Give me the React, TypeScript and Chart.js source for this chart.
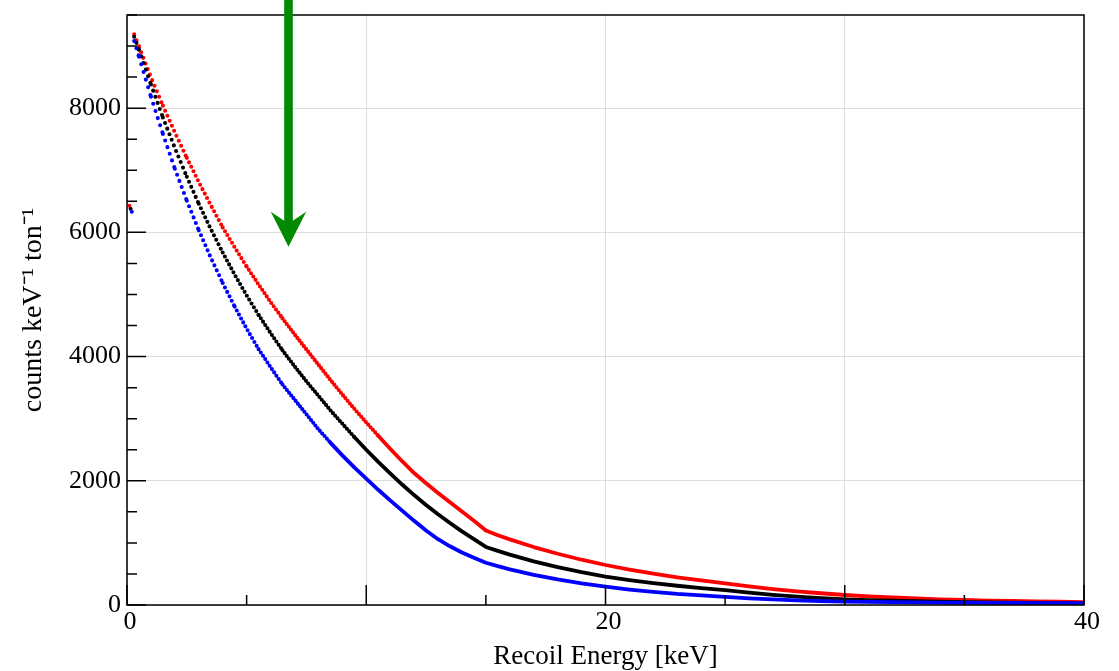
import React, { useEffect, useRef } from "react";
import { Chart, registerables } from "chart.js";

Chart.register(...registerables);

// Recoil energy grid (keV)
const ENERGY_KEV = [
  0.3, 0.5, 1, 1.5, 2, 2.5, 3, 3.5, 4, 4.5, 5, 5.5, 6, 6.5, 7, 7.5, 8, 8.5, 9, 9.5,
  10, 10.5, 11, 11.5, 12, 12.5, 13, 13.5, 14, 14.5, 15, 15.5, 16, 17, 18, 19, 20,
  21, 22, 23, 24, 25, 26, 27, 28, 29, 30, 31, 32, 33, 34, 35, 36, 37, 38, 39, 40,
];

// counts keV^-1 ton^-1
const RED_COUNTS = [
  9190, 8990, 8500, 8040, 7610, 7200, 6810, 6440, 6080, 5760, 5450, 5160, 4880, 4615,
  4360, 4115, 3870, 3625, 3390, 3160, 2940, 2725, 2515, 2315, 2125, 1960, 1805, 1655,
  1505, 1355, 1200, 1123, 1056, 933, 825, 729, 644, 570, 504, 446, 395, 349, 300, 257,
  220, 189, 161, 139, 121, 105, 91, 81, 72, 65, 58, 52, 47,
];
const BLACK_COUNTS = [
  9150, 8940, 8380, 7850, 7360, 6895, 6460, 6055, 5675, 5320, 4985, 4670, 4380, 4100,
  3845, 3600, 3370, 3135, 2920, 2705, 2500, 2305, 2120, 1940, 1770, 1610, 1460, 1320,
  1185, 1060, 935, 871, 811, 703, 609, 528, 456, 401, 353, 310, 273, 240, 198, 163,
  134, 110, 91, 79, 69, 61, 53, 47, 41, 36, 32, 28, 25,
];
const BLUE_COUNTS = [
  9080, 8830, 8185, 7585, 7025, 6510, 6035, 5595, 5185, 4805, 4450, 4120, 3830, 3550,
  3310, 3070, 2830, 2615, 2410, 2215, 2035, 1855, 1685, 1520, 1355, 1200, 1060, 945,
  845, 760, 680, 625, 575, 486, 411, 347, 295, 249, 211, 178, 155, 130, 107, 90, 76,
  64, 54, 50, 46, 42, 38, 36, 34, 32, 30, 29, 28,
];

// isolated first points near zero energy: red, black, blue
const LOW_ENERGY_KEV = [0.1, 0.15, 0.2];
const LOW_COUNTS = [6430, 6380, 6330];

// axis ticks
const X_MAJOR_TICKS = [0, 10, 20, 30, 40];
const X_LABELLED_TICKS = [0, 20, 40];
const X_MINOR_TICKS = [5, 15, 25, 35];
const Y_MAJOR_TICKS = [0, 2000, 4000, 6000, 8000];
const Y_MINOR_STEP = 500;

// annotation arrow (energy in keV, tip in counts)
const ARROW_ENERGY = 6.75;
const ARROW_TIP_COUNTS = 5770;

const X_TITLE = "Recoil Energy [keV]";
const Y_TITLE = "counts keV\u207B\u00B9 ton\u207B\u00B9";

const FONT = "'Liberation Serif', 'Times New Roman', serif";

// visual sampling step of the dotted rendering (px along x)
const DOT_STEP_PX = 2.25;

function steepness(ctx: any) {
  const dx = Math.abs(ctx.p1.x - ctx.p0.x);
  const dy = Math.abs(ctx.p1.y - ctx.p0.y);
  return dy / Math.max(dx, 1e-6);
}

function lineDataset(label: string, values: number[], color: string) {
  return {
    type: "line" as const,
    label,
    data: ENERGY_KEV.map((e, i) => ({ x: e, y: values[i] })),
    borderColor: color,
    backgroundColor: color,
    borderWidth: 3.8,
    pointRadius: 0,
    tension: 0,
    fill: false,
    borderCapStyle: "round" as const,
    borderJoinStyle: "round" as const,
    borderDash: [] as number[],
    segment: {
      borderDash: (ctx: any) => {
        const s = steepness(ctx);
        if (s <= 1.1) return undefined;
        const gap = Math.round(2 * DOT_STEP_PX * Math.sqrt(1 + s * s)) / 2;
        return [0, gap];
      },
      borderWidth: (ctx: any) => (steepness(ctx) > 1.1 ? 4.1 : undefined),
    },
  };
}

function lowDataset(label: string, idx: number, color: string) {
  return {
    type: "scatter" as const,
    label,
    data: [{ x: LOW_ENERGY_KEV[idx], y: LOW_COUNTS[idx] }],
    backgroundColor: color,
    borderWidth: 0,
    pointRadius: 2,
    showLine: false,
  };
}

const decorPlugin = {
  id: "decor",
  afterDraw(chart: any) {
    const { ctx, chartArea: a, scales } = chart;
    const x = scales.x;
    const y = scales.y;
    ctx.save();
    // frame
    ctx.strokeStyle = "#000";
    ctx.lineWidth = 1.5;
    ctx.strokeRect(a.left, a.top, a.right - a.left, a.bottom - a.top);
    // inward ticks
    ctx.beginPath();
    X_MAJOR_TICKS.forEach((v) => {
      const px = x.getPixelForValue(v);
      ctx.moveTo(px, a.bottom);
      ctx.lineTo(px, a.bottom - 20);
    });
    X_MINOR_TICKS.forEach((v) => {
      const px = x.getPixelForValue(v);
      ctx.moveTo(px, a.bottom);
      ctx.lineTo(px, a.bottom - 10);
    });
    for (let v = 0; v <= y.max + 1e-6; v += Y_MINOR_STEP) {
      const py = y.getPixelForValue(v);
      const len = Y_MAJOR_TICKS.includes(v) ? 19 : 10;
      ctx.moveTo(a.left, py);
      ctx.lineTo(a.left + len, py);
    }
    ctx.stroke();

    // green arrow
    const cx = x.getPixelForValue(ARROW_ENERGY);
    const tipY = y.getPixelForValue(ARROW_TIP_COUNTS);
    const half = 4.3;
    const headHalf = 17.7;
    const headLen = 35;
    const notch = 26;
    ctx.fillStyle = "#008a00";
    ctx.beginPath();
    ctx.moveTo(cx - half, 0);
    ctx.lineTo(cx + half, 0);
    ctx.lineTo(cx + half, tipY - notch);
    ctx.lineTo(cx + headHalf, tipY - headLen);
    ctx.lineTo(cx, tipY);
    ctx.lineTo(cx - headHalf, tipY - headLen);
    ctx.lineTo(cx - half, tipY - notch);
    ctx.closePath();
    ctx.fill();
    ctx.restore();
  },
};

export default function App() {
  const canvasRef = useRef<HTMLCanvasElement | null>(null);

  useEffect(() => {
    if (!canvasRef.current) return;
    const tickFont = { family: FONT, size: 26, lineHeight: 1 };
    const chart = new Chart(canvasRef.current, {
      type: "line",
      data: {
        datasets: [
          lineDataset("blue", BLUE_COUNTS, "#0000ff"),
          lineDataset("black", BLACK_COUNTS, "#000000"),
          lineDataset("red", RED_COUNTS, "#ff0000"),
          lowDataset("blue0", 2, "#0000ff"),
          lowDataset("black0", 1, "#000000"),
          lowDataset("red0", 0, "#ff0000"),
        ] as any,
      },
      options: {
        animation: false,
        responsive: true,
        maintainAspectRatio: false,
        layout: { padding: { top: 15, right: 35, left: 0, bottom: 0 } },
        plugins: {
          legend: { display: false },
          tooltip: { enabled: false },
        },
        scales: {
          x: {
            type: "linear",
            min: 0,
            max: 40,
            afterBuildTicks: (s: any) => {
              s.ticks = X_MAJOR_TICKS.map((v) => ({ value: v }));
            },
            afterFit: (s: any) => {
              s.height = 66;
              s.paddingLeft = 0;
              s.paddingRight = 0;
            },
            ticks: {
              autoSkip: false,
              maxRotation: 0,
              padding: 4,
              labelOffset: 3,
              color: "#000",
              font: tickFont,
              callback: (v: any) => (X_LABELLED_TICKS.includes(Number(v)) ? String(v) : ""),
            },
            grid: { color: "rgb(222,222,222)", lineWidth: 1, drawTicks: false },
            border: { display: false },
            title: {
              display: true,
              text: X_TITLE,
              color: "#000",
              font: { family: FONT, size: 27, lineHeight: 1 },
              padding: { top: 0, bottom: 1 },
            },
          },
          y: {
            type: "linear",
            min: 0,
            max: 9500,
            afterBuildTicks: (s: any) => {
              s.ticks = Y_MAJOR_TICKS.map((v) => ({ value: v }));
            },
            afterFit: (s: any) => {
              s.width = 127;
              s.paddingTop = 0;
              s.paddingBottom = 0;
            },
            ticks: {
              padding: 6,
              color: "#000",
              font: tickFont,
              callback: (v: any) => String(v),
            },
            grid: { color: "rgb(222,222,222)", lineWidth: 1, drawTicks: false },
            border: { display: false },
            title: {
              display: true,
              text: Y_TITLE,
              color: "#000",
              font: { family: FONT, size: 28, lineHeight: 1 },
              padding: { top: 20, bottom: 0 },
            },
          },
        },
      },
      plugins: [decorPlugin],
    });
    return () => chart.destroy();
  }, []);

  return (
    <div style={{ position: "fixed", left: 0, top: 0, width: 1119, height: 671, background: "#fff" }}>
      <canvas ref={canvasRef} />
    </div>
  );
}
